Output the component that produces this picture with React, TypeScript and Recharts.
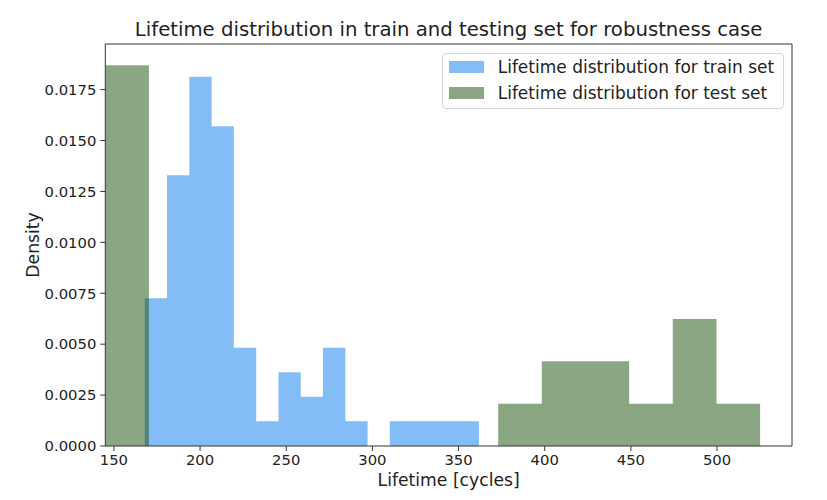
import React from "react";
import { ComposedChart, Area, XAxis, YAxis, Legend, Label, ReferenceLine } from "recharts";

// Histogram bin edges (cycles) and densities
const trainEdges = [167.9, 180.8, 193.8, 206.7, 219.6, 232.6, 245.5, 258.4, 271.3, 284.3, 297.2, 310.1, 323.1, 336.0, 348.9, 361.8];
const trainDensity = [0.00725, 0.0133, 0.01813, 0.0157, 0.00483, 0.00121, 0.00362, 0.00242, 0.00483, 0.00121, 0, 0.00121, 0.00121, 0.00121, 0.00121];
const testEdges = [145, 170.3, 195.7, 221, 246.3, 271.7, 297, 322.3, 347.7, 373, 398.3, 423.7, 449, 474.3, 499.7, 525];
const testDensity = [0.0187, 0, 0, 0, 0, 0, 0, 0, 0, 0.00208, 0.00416, 0.00416, 0.00208, 0.00624, 0.00208];

const xTicks = [150, 200, 250, 300, 350, 400, 450, 500];
const yTicks = [0, 0.0025, 0.005, 0.0075, 0.01, 0.0125, 0.015, 0.0175];
const xDomain = [145, 543.5];
const yDomain = [0, 0.01974];

const seriesNames = ["Lifetime distribution for train set", "Lifetime distribution for test set"];
const title = "Lifetime distribution in train and testing set for robustness case";

const TRAIN_COLOR = "#84bdf6";
const TEST_COLOR = "#154d05";
const TEST_OPACITY = 0.5;
const TEST_SWATCH = "#8aa682";

const toSteps = (edges: number[], dens: number[]) =>
  edges.map((x, i) => ({ x, y: dens[Math.min(i, dens.length - 1)] }));

const trainSteps = toSteps(trainEdges, trainDensity);
const testSteps = toSteps(testEdges, testDensity);

const FONT = "'DejaVu Sans', sans-serif";
const TEXT = "#222";
const SPINE = "#333";

const LegendBox = () => (
  <div
    style={{
      boxSizing: "border-box",
      width: 342,
      height: 56,
      border: "1px solid #d6d6d6",
      borderRadius: 4,
      background: "rgba(255,255,255,0.8)",
      paddingTop: 1,
      fontFamily: FONT,
      fontSize: 17,
      color: TEXT,
    }}
  >
    {seriesNames.map((n, i) => (
      <div key={n} style={{ height: 25.6, display: "flex", alignItems: "center", paddingLeft: 6 }}>
        <div style={{ width: 35, height: 12, background: i === 0 ? TRAIN_COLOR : TEST_SWATCH, marginRight: 14 }} />
        <span style={{ whiteSpace: "nowrap" }}>{n}</span>
      </div>
    ))}
  </div>
);

export default function App() {
  return (
    <div style={{ position: "relative", width: 811, height: 484, fontFamily: FONT }}>
      <div
        style={{
          position: "absolute",
          left: 97.3,
          width: 686.7,
          top: 12,
          textAlign: "center",
          fontSize: 19.7,
          lineHeight: 1,
          color: TEXT,
          whiteSpace: "nowrap",
        }}
      >
        {title}
      </div>
      <ComposedChart width={811} height={484} margin={{ top: 36, right: 27, bottom: 16, left: 37.3 }}>
        <XAxis
          type="number"
          dataKey="x"
          domain={xDomain}
          allowDataOverflow
          ticks={xTicks}
          interval={0}
          height={30}
          tickSize={5}
          tickMargin={3}
          stroke={SPINE}
          tick={{ fill: TEXT, fontSize: 14.8, fontFamily: FONT }}
        >
          <Label
            content={({ viewBox }: any) => (
              <text
                x={viewBox.x + viewBox.width / 2}
                y={viewBox.y + 40}
                textAnchor="middle"
                fill={TEXT}
                fontSize={17.2}
                fontFamily={FONT}
              >
                Lifetime [cycles]
              </text>
            )}
          />
        </XAxis>
        <YAxis
          type="number"
          domain={yDomain}
          allowDataOverflow
          ticks={yTicks}
          interval={0}
          width={60}
          tickSize={5}
          tickMargin={4}
          stroke={SPINE}
          tickFormatter={(v: number) => v.toFixed(4)}
          tick={{ fill: TEXT, fontSize: 14.8, fontFamily: FONT }}
        >
          <Label
            content={({ viewBox }: any) => {
              const cx = viewBox.x - 12;
              const cy = viewBox.y + viewBox.height / 2;
              return (
                <text
                  x={cx}
                  y={cy}
                  transform={`rotate(-90 ${cx} ${cy})`}
                  textAnchor="middle"
                  dominantBaseline="central"
                  fill={TEXT}
                  fontSize={17.2}
                  fontFamily={FONT}
                >
                  Density
                </text>
              );
            }}
          />
        </YAxis>
        <Area
          data={trainSteps}
          dataKey="y"
          type="stepAfter"
          stroke="none"
          fill={TRAIN_COLOR}
          fillOpacity={1}
          dot={false}
          activeDot={false}
          isAnimationActive={false}
          name={seriesNames[0]}
        />
        <Area
          data={testSteps}
          dataKey="y"
          type="stepAfter"
          stroke="none"
          fill={TEST_COLOR}
          fillOpacity={TEST_OPACITY}
          dot={false}
          activeDot={false}
          isAnimationActive={false}
          name={seriesNames[1]}
        />
        <ReferenceLine y={yDomain[1]} stroke={SPINE} strokeWidth={1} />
        <ReferenceLine x={xDomain[1]} stroke={SPINE} strokeWidth={1} />
        <Legend
          layout="vertical"
          align="center"
          verticalAlign="middle"
          content={() => <LegendBox />}
          wrapperStyle={{ position: "absolute", left: 433.7, top: 44.7, width: 342, height: 56, margin: 0 }}
        />
      </ComposedChart>
    </div>
  );
}
